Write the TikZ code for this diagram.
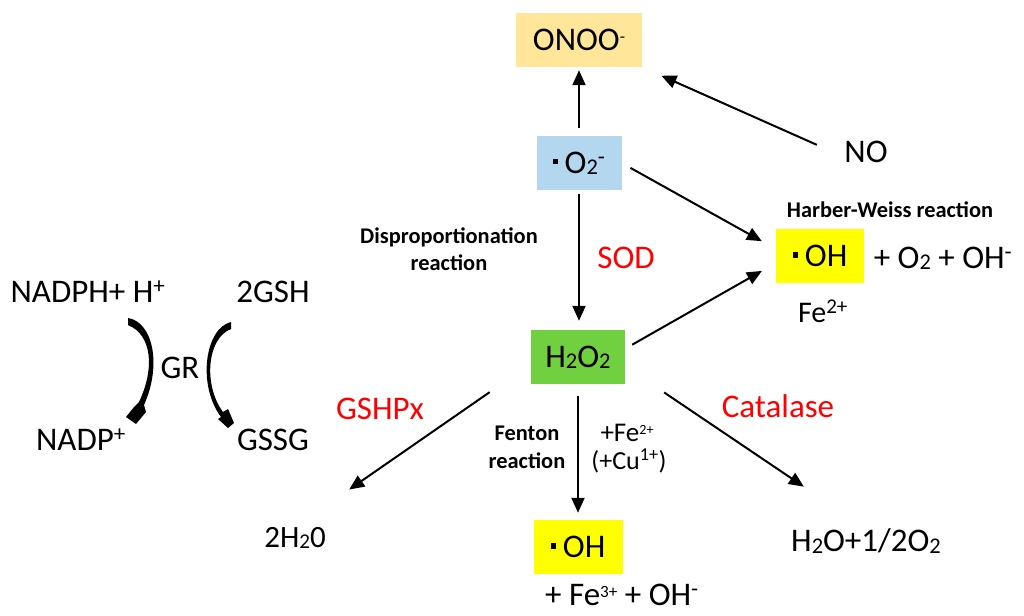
\documentclass[tikz,border=0pt]{standalone}
\usepackage{fontspec}
\setmainfont{Carlito}
\usetikzlibrary{arrows.meta}
\definecolor{onoocol}{HTML}{FFE699}
\definecolor{supercol}{HTML}{B4D7F0}
\definecolor{peroxcol}{HTML}{70D040}
\definecolor{ohcol}{RGB}{255,255,0}
\newcommand{\rdot}{\rule[.27em]{.17em}{.17em}\hspace{.2em}}
\newcommand{\dn}[1]{\raisebox{-.04em}{\scalebox{.68}{#1}}}
\newcommand{\up}[1]{\textsuperscript{#1}}
\newcommand{\tup}[1]{\raisebox{.26em}{\scalebox{.52}{#1}}}
\tikzset{
  bigtxt/.style={font=\fontsize{33}{36}\selectfont,inner sep=0pt},
  midtxt/.style={font=\fontsize{33}{36}\selectfont,inner sep=0pt},
  smalltxt/.style={font=\fontsize{27}{28}\selectfont,inner sep=0pt},
  redtxt/.style={font=\fontsize{33}{36}\selectfont,text=red,inner sep=0pt},
  boldtxt/.style={font=\fontsize{22.4}{27}\selectfont\bfseries,align=center,inner sep=0pt},
  speciesbox/.style={inner sep=0pt,font=\fontsize{33}{36}\selectfont},
  reacarrow/.style={-{Triangle[length=15pt,width=13pt]},line width=2pt},
}
\begin{document}
\begin{tikzpicture}[x=1pt,y=-1pt]
\useasboundingbox (0,0) rectangle (1024,615);
% boxes
\node[speciesbox,fill=onoocol,minimum width=126pt,minimum height=54pt] (onoo) at (579,40) {ONOO\tup{-}};
\node[speciesbox,fill=supercol,minimum width=85pt,minimum height=54pt] (super) at (579,163) {\rdot O\dn{2}\up{-}};
\node[speciesbox,fill=peroxcol,minimum width=94pt,minimum height=54pt] (perox) at (578,357) {H\dn{2}O\dn{2}};
\node[speciesbox,fill=ohcol,minimum width=88pt,minimum height=54pt] (ohright) at (820,256) {\rdot OH};
\node[speciesbox,fill=ohcol,minimum width=89pt,minimum height=54pt] (ohbottom) at (578,547) {\rdot OH};
% species
\node[bigtxt] (no) at (866,152) {NO};
\node[font=\fontsize{31}{34}\selectfont,inner sep=0pt] (water) at (295,538) {2H\dn{2}0};
\node[midtxt] (product) at (866,541) {H\dn{2}O+1/2O\dn{2}};
\node[midtxt] (ohrest) at (943,258) {+ O\dn{2} + OH\up{-}};
\node[font=\fontsize{30}{34}\selectfont,inner sep=0pt] (ferrous) at (823,311) {Fe\up{2+}};
\node[midtxt] (ferric) at (622,595) {+ Fe\tup{3+} + OH\up{-}};
% enzymes and labels
\node[redtxt] (sod) at (626,258) {SOD};
\node[redtxt] (gshpx) at (380,409) {GSHPx};
\node[redtxt] (catalase) at (778,406) {Catalase};
\node[boldtxt] (dispro) at (449,249) {Disproportionation\\reaction};
\node[boldtxt] (harber) at (890,210) {Harber-Weiss reaction};
\node[boldtxt] (fenton) at (527,447) {Fenton\\[1pt]reaction};
\node[smalltxt] (feplus) at (627,433) {+Fe\tup{2+}};
\node[font=\fontsize{26}{28}\selectfont,inner sep=0pt] (cuplus) at (629,461) {(+Cu\up{1+})};
% glutathione cycle
\node[bigtxt] (nadph) at (88,292) {NADPH+ H\up{+}};
\node[bigtxt] (gsh) at (273,292) {2GSH};
\node[bigtxt] (nadp) at (81,440) {NADP\up{+}};
\node[bigtxt] (gssg) at (273,440) {GSSG};
\node[bigtxt] (gr) at (180,368) {GR};
% arrows
\draw[reacarrow,shorten <=8pt,shorten >=3pt] (super.north) -- (onoo.south);
\draw[reacarrow,shorten <=4pt,shorten >=9pt] (super.south) -- (super.south |- perox.north);
\draw[reacarrow,shorten <=10pt,shorten >=16pt] (super.east) -- (ohright.171);
\draw[reacarrow,shorten <=8pt,shorten >=16pt] (perox.10) -- (ohright.189);
\draw[reacarrow,shorten <=30pt,shorten >=21pt] (no.193) -- (onoo.south east);
\draw[reacarrow,shorten <=50pt,shorten >=66pt] (perox.188) -- (water.north);
\draw[reacarrow,shorten <=12pt,shorten >=7pt] (perox.south) -- (ohbottom.north);
\draw[reacarrow,shorten <=47pt,shorten >=75pt] (perox.-11) -- (product.north);
% curved arrows
\coordinate (nadpha) at (128,318);
\coordinate (nadpb) at (126,417);
\coordinate (gsha) at (231,322);
\coordinate (gssgb) at (234,423);
\fill (nadpha) .. controls (153,322) and (162,365) .. (144,405) -- (146,412) -- (136,424) -- (nadpb) -- (134,407) -- (139,402) .. controls (155,368) and (152,335) .. (128,325) -- cycle;
\fill (gsha) .. controls (205,328) and (197,385) .. (221,417) -- (218,419) -- (228,428) -- (gssgb) -- (228,409) -- (223,412) .. controls (203,385) and (207,338) .. (231,329) -- cycle;
\end{tikzpicture}
\end{document}
